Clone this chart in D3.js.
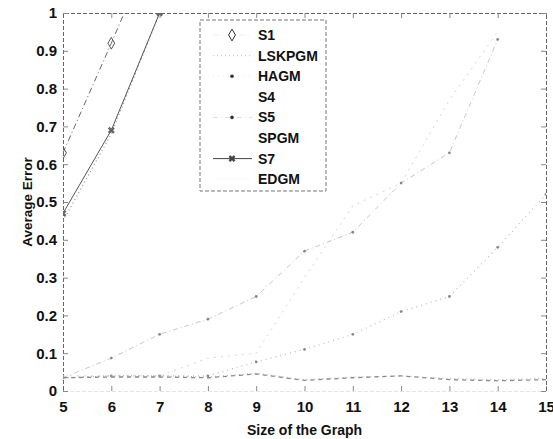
<!DOCTYPE html>
<html>
<head>
<meta charset="utf-8">
<script src="https://cdn.jsdelivr.net/npm/d3@7"></script>
<style>
  body { margin: 0; background: #fff; }
  text { font-family: "Liberation Sans", Arial, sans-serif; font-weight: bold; fill: #111; }
</style>
</head>
<body>
<div id="chart"></div>
<script>
// graph sizes on the x axis
var sizes = [5, 6, 7, 8, 9, 10, 11, 12, 13, 14, 15];

// average error per method (null = off the top of the plot, not visible)
var s1     = [0.63, 0.92, 1.22, null, null, null, null, null, null, null, null];
var lskpgm = [0.45, 0.68, 1.0, null, null, null, null, null, null, null, null];
var hagm   = [0.035, 0.04, 0.04, 0.04, 0.077, 0.11, 0.15, 0.21, 0.25, 0.38, 0.52];
var s4     = [0.04, 0.04, 0.04, 0.087, 0.10, 0.30, 0.49, 0.55, 0.77, 0.95, null];
var s5     = [0.035, 0.087, 0.15, 0.19, 0.25, 0.37, 0.42, 0.55, 0.63, 0.93, null];
var spgm   = [0.035, 0.037, 0.037, 0.035, 0.045, 0.028, 0.035, 0.04, 0.03, 0.027, 0.03];
var s7     = [0.47, 0.69, 1.0, null, null, null, null, null, null, null, null];
var edgm   = [0.035, 0.04, 0.04, 0.037, 0.047, 0.03, 0.037, 0.04, 0.033, 0.03, 0.033];

var names = ["S1", "LSKPGM", "HAGM", "S4", "S5", "SPGM", "S7", "EDGM"];
var values = [s1, lskpgm, hagm, s4, s5, spgm, s7, edgm];

var yTicks = [0, 0.1, 0.2, 0.3, 0.4, 0.5, 0.6, 0.7, 0.8, 0.9, 1];

// line look for each series (scanned print, so faded greys)
// key = colour of the short line in the legend
var styles = [
  {stroke: "#666", dash: "6,3,1,3", width: 1, marker: "diamond", key: "#eee"},
  {stroke: "#999", dash: "1,3", width: 1.2, marker: null, key: "#ccc"},
  {stroke: "#bbb", dash: "1,4", width: 1.2, marker: "dot", key: "#eee"},
  {stroke: "#d6d6d6", dash: "2,5", width: 1, marker: null, key: "#fff"},
  {stroke: "#c8c8c8", dash: "5,3,1,3", width: 1, marker: "dot", key: "#ddd"},
  {stroke: "#888", dash: "4,4", width: 1.3, marker: null, key: "#fff"},
  {stroke: "#555", dash: null, width: 1, marker: "star", key: "#444"},
  {stroke: "#aaa", dash: "1,3", width: 1, marker: null, key: "#eee"}
];

var margin = {top: 13, right: 7, bottom: 48, left: 63},
    width = 553 - margin.left - margin.right,
    height = 439 - margin.top - margin.bottom;

var svg = d3.select("#chart")
  .append("svg")
    .attr("width", 553)
    .attr("height", 439)
  .append("g")
    .attr("transform", "translate(" + margin.left + "," + margin.top + ")");

var x = d3.scaleLinear().domain([5, 15]).range([0, width]);
var y = d3.scaleLinear().domain([0, 1]).range([height, 0]);

svg.append("clipPath")
    .attr("id", "plotclip")
  .append("rect")
    .attr("width", width)
    .attr("height", height);

// axes, ticks pointing inwards like matlab
var xAxis = svg.append("g")
    .attr("transform", "translate(0," + height + ")")
    .call(d3.axisBottom(x).tickValues(sizes).tickSize(-5).tickPadding(7).tickFormat(d3.format("d")));
var xTop = svg.append("g")
    .call(d3.axisTop(x).tickValues(sizes).tickSize(-5).tickFormat(""));
var yAxis = svg.append("g")
    .call(d3.axisLeft(y).tickValues(yTicks).tickSize(-5).tickPadding(6).tickFormat(d3.format("~g")));
var yRight = svg.append("g")
    .attr("transform", "translate(" + width + ",0)")
    .call(d3.axisRight(y).tickValues(yTicks).tickSize(-5).tickFormat(""));

svg.selectAll(".domain")
    .attr("stroke", "#666")
    .attr("stroke-dasharray", "4,2");
xAxis.select(".domain").attr("stroke", "#e4e4e4");
svg.selectAll(".tick line").attr("stroke", "#888");
svg.selectAll(".tick text")
    .style("font-size", "15px")
    .style("font-family", "'Liberation Sans', Arial, sans-serif")
    .style("font-weight", "bold")
    .attr("fill", "#111");
xAxis.selectAll(".tick text").attr("dy", "0.9em");

// axis titles
svg.append("text")
    .attr("x", width / 2)
    .attr("y", height + 44)
    .attr("text-anchor", "middle")
    .style("font-size", "14px")
    .text("Size of the Graph");

svg.append("text")
    .attr("transform", "translate(" + (-31) + "," + (height / 2) + ") rotate(-90)")
    .attr("text-anchor", "middle")
    .style("font-size", "13.5px")
    .text("Average Error");

// series lines
var line = d3.line()
    .defined(function(d) { return d.v != null; })
    .x(function(d) { return x(d.x); })
    .y(function(d) { return y(d.v); });

var plot = svg.append("g").attr("clip-path", "url(#plotclip)");

var diamond = d3.symbol().type(d3.symbolDiamond).size(40);
var star = d3.symbol().type(d3.symbolCross).size(30);

values.forEach(function(vals, i) {
  var pts = sizes.map(function(s, j) { return {x: s, v: vals[j]}; });
  var st = styles[i];
  plot.append("path")
      .datum(pts)
      .attr("fill", "none")
      .attr("stroke", st.stroke)
      .attr("stroke-width", st.width)
      .attr("stroke-dasharray", st.dash)
      .attr("d", line);

  var shown = pts.filter(function(d) { return d.v != null && d.v <= 1; });
  if (st.marker == "diamond") {
    plot.selectAll(null).data(shown).enter().append("path")
        .attr("d", diamond)
        .attr("transform", function(d) { return "translate(" + x(d.x) + "," + y(d.v) + ")"; })
        .attr("fill", "none")
        .attr("stroke", "#555");
  } else if (st.marker == "star") {
    plot.selectAll(null).data(shown).enter().append("path")
        .attr("d", star)
        .attr("transform", function(d) { return "translate(" + x(d.x) + "," + y(d.v) + ") rotate(45)"; })
        .attr("fill", "#666");
  } else if (st.marker == "dot") {
    plot.selectAll(null).data(shown).enter().append("circle")
        .attr("cx", function(d) { return x(d.x); })
        .attr("cy", function(d) { return y(d.v); })
        .attr("r", 1.4)
        .attr("fill", "#888");
  }
});

// legend box
var lg = svg.append("g")
    .attr("transform", "translate(" + (200 - margin.left) + "," + (20 - margin.top) + ")");

lg.append("rect")
    .attr("width", 126)
    .attr("height", 171)
    .attr("fill", "#fff")
    .attr("stroke", "#777")
    .attr("stroke-dasharray", "4,2");

names.forEach(function(n, i) {
  var st = styles[i];
  var ly = 15 + i * 20.6;
  var row = lg.append("g").attr("transform", "translate(0," + ly + ")");
  row.append("line")
      .attr("x1", 13).attr("x2", 52)
      .attr("stroke", st.key)
      .attr("stroke-width", st.width)
      .attr("stroke-dasharray", st.dash);
  if (st.marker == "diamond") {
    row.append("path").attr("d", diamond).attr("transform", "translate(32,0)")
        .attr("fill", "#fff").attr("stroke", "#333");
  } else if (st.marker == "star") {
    row.append("path").attr("d", star).attr("transform", "translate(32,0) rotate(45)")
        .attr("fill", "#444");
  } else if (st.marker == "dot") {
    row.append("circle").attr("cx", 32).attr("r", 1.8).attr("fill", "#333");
  }
  row.append("text")
      .attr("x", 58)
      .attr("dy", "0.36em")
      .style("font-size", "14px")
      .text(n);
});
</script>
</body>
</html>
